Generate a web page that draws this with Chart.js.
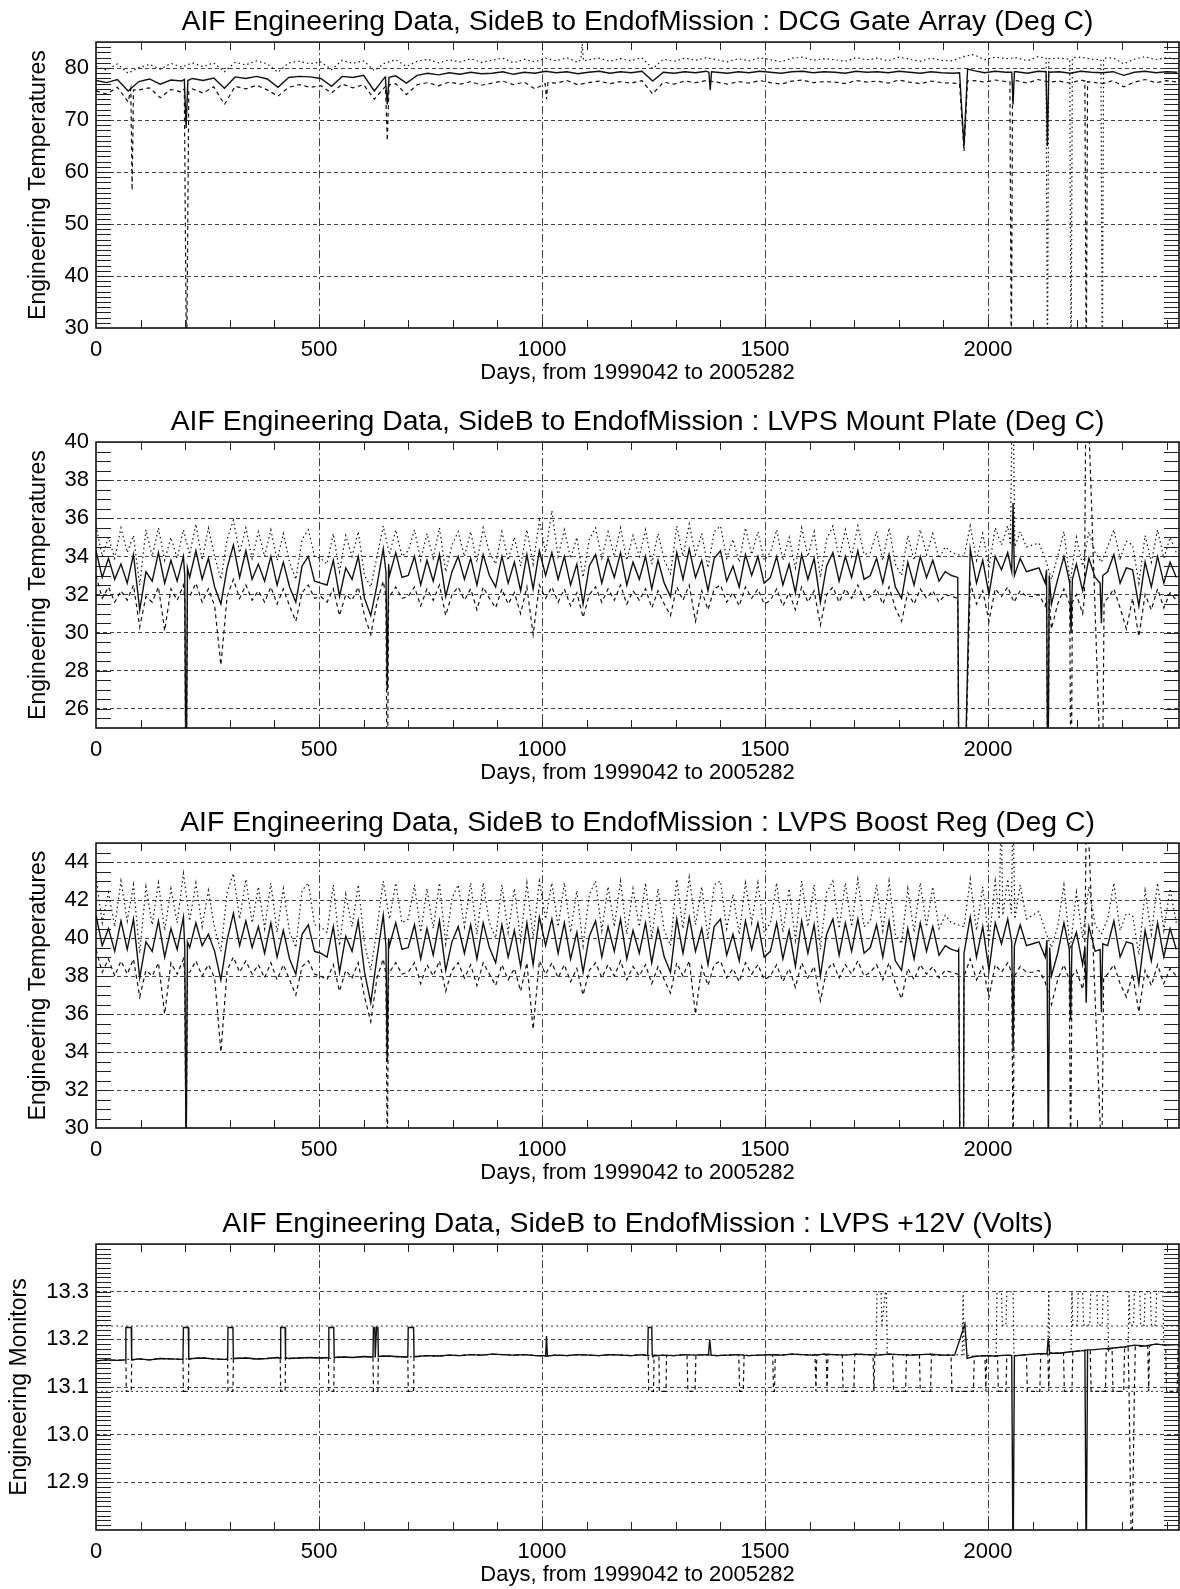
<!DOCTYPE html>
<html>
<head>
<meta charset="utf-8">
<script src="https://cdn.jsdelivr.net/npm/chart.js@4.4.1/dist/chart.umd.min.js"></script>
<style>
  html, body { margin: 0; padding: 0; background: #fff; overflow: hidden; }
  canvas { display: block; }
  #p4 { margin-top: 2px; }
</style>
</head>
<body>
<canvas id="p1" width="1180" height="400"></canvas>
<canvas id="p2" width="1180" height="400"></canvas>
<canvas id="p3" width="1180" height="400"></canvas>
<canvas id="p4" width="1180" height="400"></canvas>
<script>
// ---- Data ----
const X_TICKS = [0, 500, 1000, 1500, 2000];
const X_MAX = 2428;

// DCG Gate Array, sampled every 24 days
const P1_STEP = 24;
const P1_Y_TICKS = [30, 40, 50, 60, 70, 80];
const P1_MEAN = [
  77.6, 77.2, 77.8, 75.6, 77.4, 77.9, 76.9, 77.7, 77.5, 78.0,
  77.6, 78.1, 76.1, 78.3, 78.0, 78.4, 77.9, 76.3, 78.2, 78.4,
  78.3, 78.0, 76.5, 78.4, 78.2, 78.6, 75.6, 78.3, 78.5, 77.1,
  78.6, 79.0, 78.7, 79.1, 78.8, 79.2, 78.9, 79.0, 79.3, 78.8,
  79.2, 79.0, 79.4, 79.1, 79.3, 78.9, 79.2, 79.4, 79.0, 79.3,
  79.1, 79.4, 77.5, 79.2, 79.0, 79.3, 79.1, 79.4, 79.2, 79.0,
  79.3, 79.1, 79.4, 79.2, 79.0, 79.3, 79.4, 79.1, 79.3, 79.2,
  79.0, 79.4, 79.2, 79.3, 79.1, 79.4, 79.2, 79.0, 79.3, 79.1,
  79.0, 79.3, 79.5, 79.1, 79.4, 79.2, 79.3, 79.0, 79.4, 79.2,
  79.3, 79.0, 79.4, 79.2, 79.1, 79.3, 78.6, 79.2, 79.4, 79.1,
  79.3, 79.2
];
const P1_MAX = [
  80.3, 79.6, 80.8, 79.0, 80.1, 80.7, 79.8, 80.9, 80.2, 81.0,
  80.3, 81.0, 79.3, 81.1, 80.6, 81.4, 80.8, 79.2, 81.0, 81.3,
  80.8, 81.2, 79.7, 81.5, 80.9, 81.4, 79.5, 81.0, 81.6, 80.3,
  81.3, 81.7, 81.0, 81.6, 81.2, 81.8, 81.1, 81.5, 81.9, 81.0,
  81.7, 81.2, 81.9, 81.4, 82.0, 81.1, 81.6, 81.9, 81.3, 81.8,
  81.4, 82.0, 79.9, 81.7, 81.3, 81.9, 81.5, 82.0, 81.6, 81.2,
  81.8, 81.4, 82.0, 81.6, 81.2, 81.9, 82.1, 81.5, 81.8, 81.6,
  81.3, 82.0, 81.6, 81.9, 81.4, 82.1, 81.7, 81.3, 81.9, 81.5,
  81.4, 82.2, 82.6, 81.6, 82.1, 81.8, 82.0, 81.4, 82.2, 81.7,
  81.9, 81.5, 82.1, 81.7, 81.4, 82.0, 80.8, 81.7, 82.2, 81.6,
  82.0, 81.7
];
const P1_MIN = [
  75.6, 75.0, 76.3, 73.5, 75.8, 76.2, 74.3, 75.9, 75.4, 76.0,
  75.2, 76.4, 73.0, 76.5, 76.0, 76.7, 75.8, 74.6, 76.3, 76.8,
  76.3, 76.6, 75.2, 76.9, 76.2, 76.8, 74.0, 76.4, 77.0, 74.9,
  76.8, 77.2, 76.6, 77.3, 76.9, 77.4, 76.7, 77.1, 77.5, 76.8,
  77.3, 76.0, 77.5, 77.1, 77.6, 76.8, 77.2, 77.5, 77.0, 77.4,
  77.1, 77.6, 75.0, 77.3, 76.9, 77.5, 77.2, 77.6, 77.3, 76.9,
  77.4, 77.1, 77.6, 77.2, 76.9, 77.5, 77.7, 77.2, 77.4, 77.3,
  77.0, 77.6, 77.3, 77.5, 77.1, 77.7, 77.3, 77.0, 77.5, 77.2,
  77.1, 77.8, 77.6, 77.3, 77.7, 77.4, 77.6, 77.1, 77.8, 77.3,
  77.5, 77.1, 77.7, 77.3, 77.0, 77.6, 76.4, 77.3, 77.8, 77.2,
  77.6, 77.3
];
// short excursions: [day, value] runs that replace the regular samples they span
const P1_MEAN_EVENTS = [
  [[198, 77.8], [202, 68.5], [206, 77.6]],
  [[649, 78.0], [653, 73.0], [657, 78.2]],
  [[1374, 79.2], [1377, 75.8], [1380, 79.3]],
  [[1936, 79.1], [1946, 65.0], [1954, 79.8]],
  [[2053, 79.2], [2056, 73.0], [2059, 79.3]],
  [[2130, 79.3], [2133, 65.0], [2136, 79.2]]
];
const P1_MIN_EVENTS = [
  [[78, 76.0], [81, 56.5], [84, 75.8]],
  [[198, 76.0], [203, 20], [208, 75.5]],
  [[649, 76.5], [653, 66.0], [657, 76.8]],
  [[1007, 77.0], [1010, 74.0], [1013, 77.2]],
  [[1936, 77.0], [1946, 64.0], [1954, 77.5]],
  [[2049, 77.4], [2052, 20], [2055, 77.3]],
  [[2217, 77.5], [2220, 20], [2223, 77.4]]
];
const P1_MAX_EVENTS = [
  [[1087, 81.6], [1090, 84.6], [1093, 81.4]],
  [[2130, 81.9], [2133, 20], [2136, 81.8]],
  [[2183, 81.7], [2186, 20], [2189, 82.0]],
  [[2253, 81.6], [2256, 20], [2259, 81.9]]
];

// LVPS Mount Plate, sampled every 14 days
const P2_STEP = 14;
const P2_Y_TICKS = [26, 28, 30, 32, 34, 36, 38, 40];
const P2_MEAN = [
  34.3, 32.9, 33.9, 32.8, 33.6, 32.6, 34.1, 31.2, 33.2, 32.7,
  34.2, 32.6, 33.8, 32.7, 34.0, 32.9, 34.3, 32.8, 33.9, 32.4,
  31.5, 33.4, 34.6, 32.9, 34.3, 32.8, 33.6, 32.7, 34.0, 32.5,
  33.7, 32.4, 31.6, 33.5, 34.0, 32.7, 32.6, 32.5, 33.8, 31.9,
  33.4, 32.8, 34.0, 31.8, 30.9, 32.5, 34.4, 33.0, 34.2, 32.9,
  33.0, 34.0, 32.5, 33.8, 32.7, 34.1, 31.9, 33.2, 34.0, 32.8,
  33.9, 32.5, 34.1, 33.0, 32.4, 34.0, 32.6, 33.7, 32.2, 34.1,
  32.3, 34.3, 33.0, 34.2, 32.8, 34.0, 32.5, 33.6, 31.5, 33.5,
  34.1, 32.6, 33.9, 32.9, 34.2, 32.5, 33.7, 32.8, 34.0, 32.3,
  33.8, 32.6, 31.9, 34.2, 32.8, 34.4, 32.9, 33.8, 32.2, 33.9,
  34.3, 32.7, 33.5, 32.4, 34.1, 33.0, 34.0, 32.6, 32.9, 34.0,
  32.5, 33.6, 32.1, 34.1, 32.8, 33.9, 31.6, 33.5, 34.2, 32.7,
  34.0, 32.9, 34.3, 32.8, 33.0, 33.9, 32.6, 34.1, 32.4, 31.8,
  33.7, 32.5, 34.0, 32.9, 33.8, 32.7, 33.2, 33.0, 32.9, 32.8,
  34.4, 32.6, 33.8, 32.0, 34.0, 33.3, 34.2, 32.8, 33.9, 33.2,
  33.3, 33.4, 32.6, 31.5, 32.8, 34.0, 31.4, 33.6, 32.2, 33.9,
  32.9, 32.4, 33.2, 34.1, 32.6, 33.4, 33.3, 31.4, 33.7, 32.4,
  34.0, 32.6, 33.7, 32.9
];
const P2_MAX = [
  35.6, 34.0, 35.0, 33.9, 35.5, 34.2, 35.1, 32.5, 35.4, 34.0,
  35.5, 33.8, 35.0, 33.9, 35.4, 34.1, 35.7, 33.8, 35.5, 34.0,
  32.8, 34.9, 35.9, 34.2, 35.5, 33.9, 35.3, 34.0, 35.4, 33.8,
  35.2, 33.7, 32.8, 34.9, 35.4, 34.0, 33.9, 33.6, 35.2, 33.2,
  35.1, 34.0, 35.3, 33.0, 32.4, 34.0, 35.6, 34.1, 35.4, 34.0,
  34.3, 35.4, 33.8, 35.2, 33.9, 35.5, 33.2, 34.6, 35.3, 34.0,
  35.3, 33.7, 35.5, 34.2, 33.6, 35.3, 33.8, 35.0, 33.5, 35.4,
  33.6, 35.9, 34.2, 36.4, 34.0, 35.4, 33.9, 35.0, 32.9, 34.9,
  35.5, 33.9, 35.3, 34.0, 35.5, 33.8, 35.1, 34.0, 35.4, 33.6,
  35.2, 33.8, 33.1, 35.6, 34.0, 35.7, 34.1, 35.2, 33.4, 35.3,
  35.6, 33.9, 34.9, 33.7, 35.5, 34.1, 35.3, 33.8, 34.2, 35.4,
  33.8, 35.0, 33.4, 35.5, 34.0, 35.3, 32.9, 34.9, 35.6, 33.9,
  35.4, 34.0, 35.6, 34.1, 34.2, 35.3, 33.8, 35.5, 33.6, 33.0,
  35.1, 33.8, 35.4, 34.1, 35.2, 33.9, 34.5, 34.2, 34.1, 34.0,
  35.6, 33.8, 35.2, 33.4, 35.5, 34.6, 35.6, 34.0, 35.3, 34.5,
  34.6, 34.7, 33.9, 32.8, 34.0, 35.3, 32.6, 35.0, 33.5, 35.3,
  34.2, 33.7, 34.5, 35.4, 33.9, 34.8, 34.6, 32.6, 35.1, 33.7,
  35.4, 33.9, 35.0, 34.2
];
const P2_MIN = [
  33.0, 31.8, 32.4, 31.6, 32.2, 31.7, 32.5, 30.3, 31.9, 31.6,
  32.4, 30.1, 32.3, 31.7, 32.5, 31.9, 32.6, 31.6, 32.3, 31.4,
  28.3, 31.9, 32.8, 31.8, 32.5, 31.7, 32.2, 31.6, 32.4, 31.5,
  32.3, 31.4, 30.6, 32.1, 32.5, 31.8, 31.9, 31.6, 32.3, 30.9,
  32.0, 31.7, 32.4, 30.9, 29.9, 31.6, 32.7, 31.9, 32.4, 31.8,
  31.9, 32.4, 31.4, 32.3, 31.7, 32.5, 30.9, 32.0, 32.4, 31.7,
  32.3, 31.2, 32.4, 31.8, 31.3, 32.3, 31.5, 32.1, 31.0, 32.4,
  29.9, 32.5, 31.8, 32.4, 31.6, 32.3, 31.4, 32.1, 30.8, 32.0,
  32.4, 31.6, 32.3, 31.7, 32.5, 31.5, 32.2, 31.7, 32.3, 31.3,
  32.2, 31.5, 30.9, 32.4, 31.7, 32.5, 30.6, 32.2, 31.2, 32.3,
  32.5, 31.6, 32.1, 31.4, 32.4, 31.8, 32.3, 31.5, 31.7, 32.3,
  31.4, 32.1, 31.2, 32.4, 31.6, 32.2, 30.4, 32.0, 32.4, 31.6,
  32.3, 31.8, 32.5, 31.7, 31.9, 32.3, 31.5, 32.4, 31.3, 30.6,
  32.1, 31.5, 32.3, 31.8, 32.2, 31.6, 32.0, 31.9, 31.8, 31.7,
  32.6, 31.5, 32.2, 30.6, 32.3, 31.9, 32.4, 31.6, 32.2, 31.9,
  31.9, 32.0, 31.4, 30.2, 31.5, 32.3, 30.1, 32.0, 31.0, 32.2,
  31.6, 31.1, 31.8, 32.3, 31.3, 30.2, 31.8, 29.8, 32.0, 31.2,
  32.3, 31.3, 32.1, 31.7
];
const P2_MEAN_EVENTS = [
  [[199, 33.0], [202, 20], [205, 33.4]],
  [[650, 33.2], [653, 27.0], [656, 33.6]],
  [[1932, 32.9], [1935, 20], [1946, 20]],
  [[2053, 33.2], [2056, 36.8], [2059, 33.0]],
  [[2131, 33.3], [2134, 20], [2137, 33.0]],
  [[2183, 32.6], [2186, 30.0], [2189, 32.8]],
  [[2251, 32.6], [2254, 30.5], [2257, 33.0]]
];
const P2_MIN_EVENTS = [
  [[199, 31.8], [202, 20], [205, 32.0]],
  [[650, 31.9], [653, 20], [656, 32.0]],
  [[1932, 31.8], [1935, 20], [1946, 20]],
  [[2131, 31.9], [2134, 20], [2137, 31.8]],
  [[2183, 31.5], [2186, 20], [2189, 31.6]],
  [[2216, 31.8], [2220, 45], [2256, 20], [2260, 31.6]]
];
const P2_MAX_EVENTS = [
  [[2050, 34.6], [2055, 44], [2060, 34.5]]
];

// LVPS Boost Reg, sampled every 14 days
const P3_STEP = 14;
const P3_Y_TICKS = [30, 32, 34, 36, 38, 40, 42, 44];
const P3_MEAN = [
  41.2, 39.6, 40.5, 39.3, 40.9, 39.4, 41.0, 37.9, 39.8, 39.3,
  40.9, 39.0, 40.5, 39.4, 41.1, 39.5, 40.8, 39.6, 40.2, 39.3,
  37.8, 39.9, 41.3, 39.6, 40.9, 39.5, 40.6, 39.2, 40.8, 39.0,
  40.4, 38.9, 38.1, 40.2, 40.7, 39.3, 39.2, 39.0, 40.6, 38.2,
  40.1, 39.3, 40.9, 38.2, 36.6, 39.0, 41.2, 39.6, 40.8, 39.4,
  39.5, 40.7, 38.9, 40.5, 39.1, 40.9, 38.3, 39.8, 40.6, 39.2,
  40.7, 38.9, 40.8, 39.5, 38.7, 40.7, 39.0, 40.4, 38.5, 40.8,
  38.6, 41.1, 39.6, 41.0, 39.2, 40.8, 38.9, 40.3, 38.2, 40.1,
  40.9, 39.0, 40.6, 39.3, 41.0, 38.9, 40.4, 39.2, 40.8, 38.7,
  40.5, 39.0, 38.2, 41.0, 39.2, 41.1, 39.3, 40.5, 38.6, 40.6,
  41.0, 39.1, 40.2, 38.8, 40.9, 39.4, 40.8, 39.0, 39.3, 40.8,
  38.9, 40.4, 38.5, 40.9, 39.2, 40.7, 38.0, 40.2, 41.0, 39.1,
  40.8, 39.3, 41.0, 39.2, 39.5, 40.7, 39.0, 40.9, 38.8, 38.3,
  40.5, 38.9, 40.8, 39.3, 40.6, 39.1, 39.6, 39.4, 39.3, 39.2,
  41.1, 39.0, 40.6, 38.3, 40.8, 39.7, 41.0, 39.2, 40.7, 39.6,
  39.7, 39.8, 39.0, 38.0, 39.2, 40.8, 37.9, 40.3, 38.6, 40.6,
  39.3, 38.8, 39.6, 40.9, 39.0, 39.8, 39.7, 37.6, 40.4, 38.8,
  40.8, 39.0, 40.5, 39.4
];
const P3_MAX = [
  43.2, 40.8, 42.4, 40.6, 43.0, 40.9, 42.8, 39.2, 42.7, 40.7,
  42.9, 40.4, 42.6, 40.8, 43.4, 40.9, 42.9, 40.6, 42.5, 40.5,
  39.3, 42.4, 43.4, 41.0, 43.1, 40.8, 42.7, 40.5, 42.9, 40.3,
  42.6, 40.3, 39.5, 42.5, 42.9, 40.7, 40.6, 40.3, 42.8, 39.6,
  42.3, 40.6, 42.8, 39.7, 38.3, 40.5, 43.0, 41.0, 42.9, 40.8,
  41.0, 42.8, 40.3, 42.6, 40.5, 42.9, 39.7, 42.1, 42.8, 40.6,
  42.9, 40.2, 42.9, 40.8, 40.0, 42.8, 40.3, 42.6, 39.9, 42.9,
  40.0, 43.0, 41.0, 42.9, 40.6, 42.9, 40.3, 42.5, 39.6, 42.3,
  43.0, 40.4, 42.7, 40.6, 43.0, 40.2, 42.6, 40.6, 42.9, 40.0,
  42.6, 40.4, 39.6, 43.1, 40.5, 43.2, 40.7, 42.7, 40.0, 42.8,
  43.0, 40.5, 42.3, 40.2, 42.9, 40.8, 42.9, 40.3, 40.8, 42.9,
  40.3, 42.6, 39.9, 43.0, 40.6, 42.8, 39.4, 42.4, 43.0, 40.5,
  42.9, 40.6, 43.1, 40.6, 40.9, 42.8, 40.4, 43.0, 40.2, 39.7,
  42.6, 40.3, 42.9, 40.6, 42.7, 40.5, 41.2, 40.8, 40.7, 40.6,
  43.1, 40.4, 42.7, 39.8, 43.0, 41.2, 43.1, 40.6, 42.8, 41.0,
  41.2, 41.4, 40.4, 39.5, 40.6, 42.8, 39.4, 42.4, 40.0, 42.7,
  40.7, 40.2, 41.0, 42.9, 40.4, 41.3, 41.2, 39.1, 42.5, 40.2,
  42.9, 40.4, 42.6, 40.8
];
const P3_MIN = [
  39.4, 38.2, 38.9, 38.0, 38.8, 38.1, 38.9, 36.9, 38.3, 38.0,
  38.7, 36.0, 38.7, 38.1, 38.9, 38.2, 38.8, 38.0, 38.6, 37.9,
  34.0, 38.3, 39.0, 38.2, 38.8, 38.1, 38.6, 37.9, 38.7, 37.8,
  38.6, 37.8, 37.0, 38.5, 38.8, 38.1, 38.0, 37.8, 38.6, 37.2,
  38.3, 37.9, 38.7, 36.9, 35.6, 37.9, 38.9, 38.2, 38.7, 38.1,
  38.2, 38.7, 37.6, 38.6, 38.0, 38.8, 37.2, 38.3, 38.7, 37.9,
  38.6, 37.5, 38.7, 38.1, 37.5, 38.6, 37.8, 38.4, 37.2, 38.7,
  35.2, 38.8, 38.1, 38.7, 37.9, 38.6, 37.7, 38.4, 37.0, 38.3,
  38.7, 37.9, 38.6, 38.0, 38.8, 37.8, 38.5, 38.0, 38.6, 37.6,
  38.5, 37.8, 37.1, 38.7, 38.0, 38.8, 36.0, 38.5, 37.5, 38.6,
  38.8, 37.9, 38.4, 37.7, 38.7, 38.1, 38.6, 37.8, 38.0, 38.6,
  37.7, 38.4, 37.4, 38.7, 37.9, 38.5, 36.7, 38.3, 38.7, 37.9,
  38.6, 38.1, 38.8, 38.0, 38.2, 38.6, 37.8, 38.7, 37.6, 36.8,
  38.4, 37.8, 38.6, 38.1, 38.5, 37.9, 38.3, 38.2, 38.1, 38.0,
  38.9, 37.8, 38.5, 36.9, 38.6, 38.2, 38.7, 37.9, 38.5, 38.2,
  38.2, 38.3, 37.7, 36.5, 37.8, 38.6, 36.3, 38.3, 37.3, 38.5,
  37.9, 37.4, 38.1, 38.6, 37.6, 36.9, 38.1, 36.1, 38.3, 37.5,
  38.6, 37.6, 38.4, 38.0
];
const P3_MEAN_EVENTS = [
  [[199, 39.5], [202, 28], [205, 39.8]],
  [[650, 39.6], [653, 33.5], [656, 40.0]],
  [[1934, 39.4], [1937, 28], [1945, 28]],
  [[2053, 39.8], [2056, 34.1], [2059, 39.6]],
  [[2132, 39.9], [2135, 28], [2138, 39.5]],
  [[2182, 39.4], [2185, 35.7], [2188, 39.6]],
  [[2217, 39.5], [2220, 36.6], [2223, 39.8]],
  [[2251, 39.4], [2254, 36.1], [2257, 39.7]]
];
const P3_MIN_EVENTS = [
  [[199, 38.0], [202, 28], [205, 38.2]],
  [[650, 38.1], [653, 28], [656, 38.3]],
  [[1934, 38.0], [1937, 28], [1945, 28]],
  [[2053, 38.2], [2056, 28], [2059, 38.0]],
  [[2182, 37.8], [2185, 28], [2188, 38.0]],
  [[2216, 38.0], [2221, 48], [2255, 28], [2259, 37.9]]
];
const P3_MAX_EVENTS = [
  [[2025, 41.0], [2029, 47], [2033, 41.2]],
  [[2052, 41.3], [2056, 47], [2060, 41.0]]
];

// LVPS +12V, sampled every 24 days (min / max sit on the mean trace except where they break away)
const P4_STEP = 24;
const P4_Y_TICKS = [12.9, 13.0, 13.1, 13.2, 13.3];
const P4_LIMITS = [13.091, 13.228];
const P4_MEAN = [
  13.155, 13.157, 13.156, 13.158, 13.159, 13.157, 13.160, 13.159, 13.158, 13.160,
  13.161, 13.159, 13.158, 13.160, 13.161, 13.159, 13.160, 13.162, 13.160, 13.161,
  13.162, 13.161, 13.160, 13.163, 13.162, 13.164, 13.163, 13.165, 13.164, 13.163,
  13.164, 13.166, 13.165, 13.167, 13.166, 13.168, 13.167, 13.169, 13.168, 13.167,
  13.168, 13.166, 13.165, 13.167, 13.166, 13.168, 13.167, 13.166, 13.168, 13.167,
  13.166, 13.168, 13.165, 13.167, 13.166, 13.168, 13.167, 13.168, 13.166, 13.167,
  13.168, 13.166, 13.167, 13.168, 13.167, 13.169, 13.168, 13.167, 13.169, 13.168,
  13.167, 13.169, 13.168, 13.167, 13.169, 13.168, 13.167, 13.168, 13.169, 13.167,
  13.167, 13.163, 13.164, 13.166, 13.165, 13.167, 13.166, 13.168, 13.170, 13.172,
  13.171, 13.174, 13.176, 13.178, 13.180, 13.182, 13.184, 13.188, 13.186, 13.190,
  13.188, 13.189
];
const P4_MEAN_EVENTS = [
  [[66, 13.157], [67, 13.225], [79, 13.225], [80, 13.157]],
  [[195, 13.158], [196, 13.225], [207, 13.225], [208, 13.159]],
  [[295, 13.158], [296, 13.225], [307, 13.225], [308, 13.160]],
  [[413, 13.160], [414, 13.225], [424, 13.225], [425, 13.161]],
  [[521, 13.162], [522, 13.225], [533, 13.225], [534, 13.162]],
  [[621, 13.163], [622, 13.225], [625, 13.225], [626, 13.163], [629, 13.225], [632, 13.225], [633, 13.164]],
  [[699, 13.163], [700, 13.225], [712, 13.225], [713, 13.164]],
  [[1008, 13.166], [1010, 13.207], [1012, 13.165]],
  [[1237, 13.166], [1238, 13.225], [1246, 13.225], [1247, 13.167]],
  [[1373, 13.167], [1376, 13.200], [1379, 13.167]],
  [[1925, 13.167], [1948, 13.232], [1953, 13.160]],
  [[2053, 13.166], [2056, 12.70], [2059, 13.166]],
  [[2132, 13.170], [2135, 13.203], [2138, 13.171]],
  [[2217, 13.177], [2220, 12.70], [2223, 13.178]]
];
const P4_MIN_EVENTS = [
  [[67, 13.157], [68, 13.091], [79, 13.091], [80, 13.157]],
  [[195, 13.158], [196, 13.091], [207, 13.091], [208, 13.159]],
  [[295, 13.158], [296, 13.091], [307, 13.091], [308, 13.160]],
  [[413, 13.160], [414, 13.091], [424, 13.091], [425, 13.161]],
  [[521, 13.162], [522, 13.091], [533, 13.091], [534, 13.162]],
  [[621, 13.163], [622, 13.091], [632, 13.091], [633, 13.164]],
  [[699, 13.163], [700, 13.091], [712, 13.091], [713, 13.164]],
  [[1238, 13.166], [1239, 13.091], [1250, 13.091], [1251, 13.167]],
  [[1262, 13.167], [1263, 13.091], [1278, 13.091], [1279, 13.166]],
  [[1325, 13.166], [1327, 13.091], [1343, 13.091], [1345, 13.167]],
  [[1441, 13.168], [1443, 13.091], [1451, 13.091], [1453, 13.166]],
  [[1517, 13.167], [1519, 13.091], [1521, 13.091], [1523, 13.168]],
  [[1612, 13.168], [1614, 13.091], [1616, 13.167]],
  [[1637, 13.167], [1639, 13.091], [1641, 13.168]],
  [[1673, 13.168], [1675, 13.091], [1699, 13.091], [1701, 13.167]],
  [[1742, 13.167], [1744, 13.091], [1746, 13.168]],
  [[1786, 13.169], [1788, 13.091], [1815, 13.091], [1817, 13.168]],
  [[1846, 13.168], [1848, 13.091], [1871, 13.091], [1873, 13.167]],
  [[1917, 13.167], [1919, 13.091], [1967, 13.091], [1969, 13.164]],
  [[1993, 13.165], [1995, 13.091], [1997, 13.166]],
  [[2021, 13.166], [2023, 13.091], [2040, 13.091], [2042, 13.167]],
  [[2086, 13.168], [2088, 13.091], [2116, 13.091], [2118, 13.170]],
  [[2134, 13.170], [2136, 13.091], [2138, 13.171]],
  [[2169, 13.172], [2171, 13.091], [2188, 13.091], [2190, 13.175]],
  [[2229, 13.178], [2231, 13.091], [2263, 13.091], [2265, 13.179]],
  [[2278, 13.180], [2280, 13.091], [2304, 13.091], [2306, 13.182]],
  [[2314, 13.182], [2316, 13.091], [2322, 12.70], [2328, 13.091], [2330, 13.184]],
  [[2358, 13.186], [2360, 13.091], [2362, 13.187]],
  [[2398, 13.188], [2400, 13.091], [2424, 13.091], [2426, 13.189]]
];
const P4_MAX_EVENTS = [
  [[1749, 13.168], [1751, 13.30], [1760, 13.30], [1762, 13.23], [1770, 13.30], [1772, 13.30], [1774, 13.169]],
  [[1942, 13.168], [1944, 13.30], [1946, 13.168]],
  [[2018, 13.166], [2020, 13.30], [2030, 13.30], [2032, 13.23], [2040, 13.23], [2042, 13.30], [2056, 13.30], [2058, 13.167]],
  [[2134, 13.170], [2136, 13.30], [2138, 13.171]],
  [[2186, 13.174], [2188, 13.30], [2190, 13.23], [2200, 13.23], [2202, 13.30], [2212, 13.30], [2214, 13.23], [2228, 13.23], [2230, 13.30], [2244, 13.30], [2246, 13.23], [2256, 13.23], [2258, 13.30], [2268, 13.30], [2270, 13.176]],
  [[2314, 13.182], [2316, 13.30], [2318, 13.23], [2326, 13.23], [2328, 13.30], [2340, 13.30], [2342, 13.23], [2350, 13.23], [2352, 13.30], [2364, 13.30], [2366, 13.23], [2376, 13.23], [2378, 13.30], [2392, 13.30], [2394, 13.188]]
];

// ---- Helpers ----
const FONT = '"Liberation Sans", Arial, Helvetica, sans-serif';
const TITLE_PREFIX = 'AIF Engineering Data, SideB to EndofMission : ';
const X_TITLE = 'Days, from 1999042 to 2005282';

Chart.defaults.font.family = FONT;
Chart.defaults.color = '#000';

// regular samples plus the short excursions, which replace whatever samples they cover
function buildSeries(values, step, events) {
  let pts = values.map((v, i) => ({ x: i * step, y: v }));
  events.forEach(ev => {
    const lo = ev[0][0], hi = ev[ev.length - 1][0];
    pts = pts.filter(p => p.x < lo || p.x > hi);
    ev.forEach(([d, v]) => pts.push({ x: d, y: v }));
  });
  return pts.sort((a, b) => a.x - b.x);
}

// IDL style inward minor ticks and the box frame
const frameTicks = {
  id: 'frameTicks',
  afterDatasetsDraw(chart, args, opts) {
    const { ctx, chartArea: a, scales: { x, y } } = chart;
    ctx.save();
    ctx.strokeStyle = '#222';
    ctx.lineWidth = 1;
    ctx.beginPath();
    const n = Math.round((y.max - y.min) / opts.yMinor);
    for (let i = 1; i < n; i++) {
      const py = Math.round(y.getPixelForValue(y.min + i * opts.yMinor)) + 0.5;
      ctx.moveTo(a.left, py); ctx.lineTo(a.left + 15, py);
      ctx.moveTo(a.right, py); ctx.lineTo(a.right - 15, py);
    }
    for (let d = 100; d < x.max; d += 100) {
      const px = Math.round(x.getPixelForValue(d)) + 0.5;
      ctx.moveTo(px, a.top); ctx.lineTo(px, a.top + 8);
      ctx.moveTo(px, a.bottom); ctx.lineTo(px, a.bottom - 8);
    }
    ctx.stroke();
    ctx.lineWidth = 1.5;
    ctx.strokeStyle = '#000';
    ctx.strokeRect(a.left, a.top, a.right - a.left, a.bottom - a.top);
    ctx.restore();
  }
};

function atEdge(c) {
  return c.tick && (Math.abs(c.tick.value - c.scale.min) < 1e-6 || Math.abs(c.tick.value - c.scale.max) < 1e-6);
}

function drawPanel(id, p) {
  const lineStyle = { borderColor: '#111', pointRadius: 0, tension: 0, fill: false };
  const datasets = [
    { data: p.max, borderDash: [1.5, 3], borderWidth: 1.2 },
    { data: p.min, borderDash: [4, 3.5], borderWidth: 1.2 },
    { data: p.mean, borderWidth: 1.4 }
  ];
  (p.limits || []).forEach(v => {
    datasets.push({ data: [{ x: 0, y: v }, { x: X_MAX, y: v }], borderDash: [2, 3], borderWidth: 1, borderColor: '#333' });
  });

  return new Chart(document.getElementById(id), {
    type: 'line',
    data: { datasets: datasets.map(ds => Object.assign({}, lineStyle, ds)) },
    options: {
      responsive: false,
      animation: false,
      events: [],
      layout: { padding: { left: 0, right: 1, top: 0, bottom: 0 } },
      plugins: {
        legend: { display: false },
        tooltip: { enabled: false },
        title: {
          display: true,
          text: TITLE_PREFIX + p.title,
          fullSize: false,
          color: '#000',
          font: { size: 28.4, weight: 'normal' },
          padding: { top: p.titleTop, bottom: 3 }
        },
        frameTicks: { yMinor: p.yMinor }
      },
      scales: {
        x: {
          type: 'linear',
          min: 0,
          max: X_MAX,
          afterBuildTicks: s => { s.ticks = X_TICKS.map(v => ({ value: v })); },
          afterFit: s => { s.height = 72; },
          ticks: {
            font: { size: 22 }, color: '#000', padding: 9, maxRotation: 0, autoSkip: false,
            callback: v => String(v)
          },
          grid: {
            drawTicks: false,
            lineWidth: 1,
            color: c => atEdge(c) ? 'rgba(0,0,0,0)' : '#444'
          },
          border: { display: false, dash: [8, 3, 2, 3] },
          title: { display: true, text: X_TITLE, font: { size: 22 }, color: '#000', padding: { top: 0, bottom: 14 } }
        },
        y: {
          type: 'linear',
          min: p.yMin,
          max: p.yMax,
          afterBuildTicks: s => { s.ticks = p.yTicks.map(v => ({ value: v })); },
          afterFit: s => { s.width = 96; },
          ticks: {
            font: { size: 22 }, color: '#000', padding: 7, autoSkip: false,
            callback: v => v.toFixed(p.decimals)
          },
          grid: {
            drawTicks: false,
            lineWidth: 1,
            color: c => atEdge(c) ? 'rgba(0,0,0,0)' : '#444'
          },
          border: { display: false, dash: [4, 3] },
          title: { display: true, text: p.yTitle, font: { size: 23 }, color: '#000', padding: { top: p.yTitlePad, bottom: 0 } }
        }
      }
    },
    plugins: [frameTicks]
  });
}

drawPanel('p1', {
  title: 'DCG Gate Array (Deg C)', yTitle: 'Engineering Temperatures', yTitlePad: 25,
  yMin: 30, yMax: 85, yTicks: P1_Y_TICKS, yMinor: 1, decimals: 0, titleTop: 5,
  mean: buildSeries(P1_MEAN, P1_STEP, P1_MEAN_EVENTS),
  max: buildSeries(P1_MAX, P1_STEP, P1_MAX_EVENTS),
  min: buildSeries(P1_MIN, P1_STEP, P1_MIN_EVENTS)
});
drawPanel('p2', {
  title: 'LVPS Mount Plate (Deg C)', yTitle: 'Engineering Temperatures', yTitlePad: 25,
  yMin: 25, yMax: 40, yTicks: P2_Y_TICKS, yMinor: 0.5, decimals: 0, titleTop: 5,
  mean: buildSeries(P2_MEAN, P2_STEP, P2_MEAN_EVENTS),
  max: buildSeries(P2_MAX, P2_STEP, P2_MAX_EVENTS),
  min: buildSeries(P2_MIN, P2_STEP, P2_MIN_EVENTS)
});
drawPanel('p3', {
  title: 'LVPS Boost Reg (Deg C)', yTitle: 'Engineering Temperatures', yTitlePad: 25,
  yMin: 30, yMax: 45, yTicks: P3_Y_TICKS, yMinor: 0.5, decimals: 0, titleTop: 6,
  mean: buildSeries(P3_MEAN, P3_STEP, P3_MEAN_EVENTS),
  max: buildSeries(P3_MAX, P3_STEP, P3_MAX_EVENTS),
  min: buildSeries(P3_MIN, P3_STEP, P3_MIN_EVENTS)
});
drawPanel('p4', {
  title: 'LVPS +12V (Volts)', yTitle: 'Engineering Monitors', yTitlePad: 6,
  yMin: 12.8, yMax: 13.4, yTicks: P4_Y_TICKS, yMinor: 0.01, decimals: 1, titleTop: 5,
  limits: P4_LIMITS,
  mean: buildSeries(P4_MEAN, P4_STEP, P4_MEAN_EVENTS),
  max: buildSeries(P4_MEAN, P4_STEP, P4_MAX_EVENTS),
  min: buildSeries(P4_MEAN, P4_STEP, P4_MIN_EVENTS)
});
</script>
</body>
</html>
